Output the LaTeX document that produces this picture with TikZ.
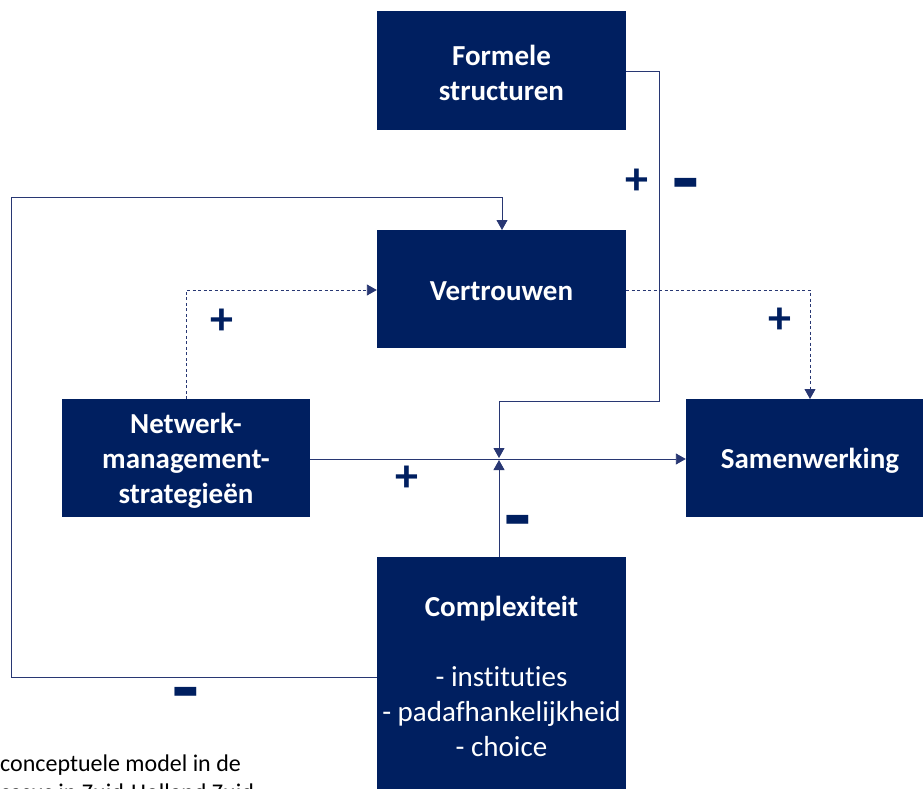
\documentclass[tikz,border=0pt]{standalone}
\usepackage{fontspec}
\setmainfont{Carlito}[Ligatures=NoCommon]
\usetikzlibrary{arrows.meta}
\definecolor{navy}{RGB}{0,31,96}
\definecolor{linec}{RGB}{40,55,115}
\begin{document}
\begin{tikzpicture}[x=1pt,y=-1pt,
  box/.style={fill=navy,draw=none,text=white,align=center,font=\fontsize{29}{35}\selectfont\bfseries,inner sep=0pt},
  lbl/.style={text=white,align=center,font=\fontsize{29}{35}\selectfont\bfseries,inner sep=0pt},
  conn/.style={draw=linec,line width=0.9pt,-{Triangle[length=10pt,width=11pt]},color=linec},
  dconn/.style={conn,dash pattern=on 3pt off 2.5pt},
  sign/.style={text=navy,font=\fontsize{46}{46}\selectfont\bfseries,inner sep=0pt},
  minus/.style={text=navy,font=\fontsize{44}{44}\selectfont\bfseries,inner sep=0pt}]
\useasboundingbox (0,0) rectangle (923,789);
% boxes
\node[box,minimum width=249pt,minimum height=119pt] (form) at (501.5,70.5) {};
\node[lbl] (formt) at (501.5,73) {Formele\\structuren};
\node[box,minimum width=249pt,minimum height=118pt] (vert) at (501.5,289) {};
\node[lbl] (vertt) at (501.5,291) {Vertrouwen};
\node[box,minimum width=248pt,minimum height=118pt] (netw) at (186,458) {};
\node[lbl] (netwt) at (186,461) {Netwerk-\\management-\\strategieën};
\node[box,minimum width=240pt,minimum height=118pt] (samen) at (806,458) {};
\node[lbl] (samt) at (810,461) {Samenwerking};
\fill[navy] (377,557) rectangle (626,800);
\node[lbl,anchor=north] (comp) at (501.5,596)
  {Complexiteit\\[35pt]\mdseries - instituties\\\mdseries - padafhankelijkheid\\\mdseries - choice};
\coordinate (compN) at (499,557);
\coordinate (compW) at (377,677);
\coordinate (junc) at (499,459);
\coordinate (juncA) at (499,458);
\coordinate (juncB) at (499,460);
% connectors
\draw[conn] (form.east |- 0,71) -- (659,71) -- (659,401) -- (499,401) -- (juncA);
\draw[conn] (compN) -- (juncB);
\draw[conn] (netw.east |- junc) -- (samen.west |- junc);
\draw[conn] (compW) -- (11,677) -- (11,197) -- (502,197) -- (502,230);
\draw[dconn] (186,399) -- (186,290) -- (vert.west |- 0,290);
\draw[dconn] (vert.east |- 0,290) -- (810,290) -- (810,399);
% signs
\node[sign] (s1) at (637,182) {+};
\node[sign] (s3) at (222,322) {+};
\node[sign] (s4) at (780,321) {+};
\node[sign] (s5) at (407,479) {+};
\node[minus] (s2) at (686,195) {\scalebox{1.4}[2.3]{–}};
\node[minus] (s6) at (518,532) {\scalebox{1.4}[2.3]{–}};
\node[minus] (s7) at (186,704) {\scalebox{1.4}[2.3]{–}};
% caption
\node[anchor=base west,inner sep=0pt,font=\fontsize{24}{29}\selectfont] (cap1) at (0,771) {conceptuele model in de};
\node[anchor=base west,inner sep=0pt,font=\fontsize{24}{29}\selectfont] (cap2) at (0,800) {casus in Zuid-Holland Zuid};
\end{tikzpicture}
\end{document}
